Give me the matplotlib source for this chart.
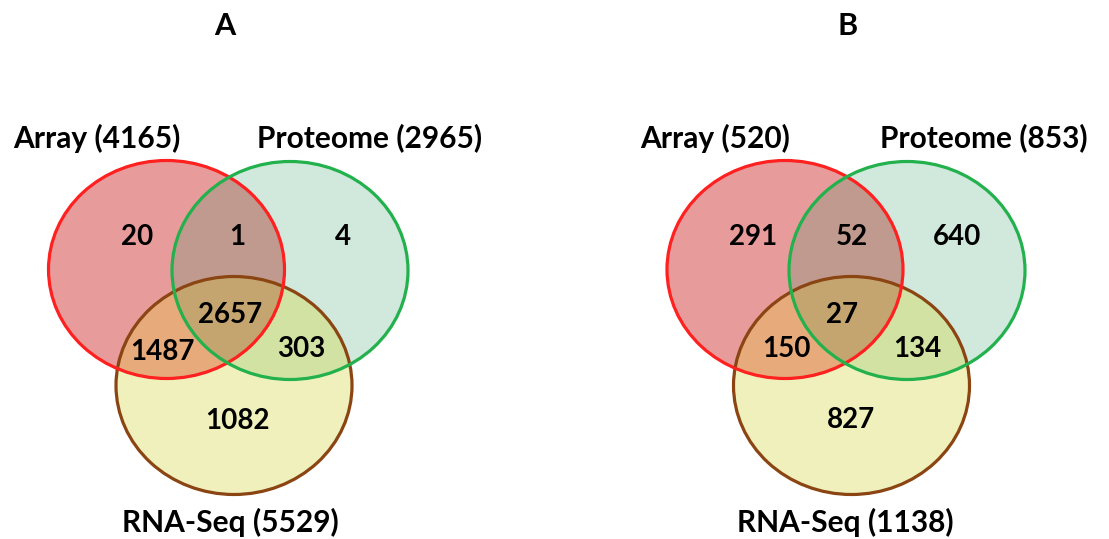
import numpy as np
import matplotlib
matplotlib.use("Agg")
import matplotlib.pyplot as plt
from matplotlib.patches import Ellipse
from matplotlib.colors import to_rgb

# ---------------- data ----------------
panel_titles = ["A", "B"]
set_names = ["Array", "Proteome", "RNA-Seq"]
set_totals_A = [4165, 2965, 5529]
set_totals_B = [520, 853, 1138]
# region counts: array only, array&proteome, proteome only, all three,
# array&rnaseq, proteome&rnaseq, rnaseq only
regions_A = [20, 1, 4, 2657, 1487, 303, 1082]
regions_B = [291, 52, 640, 27, 150, 134, 827]

# ---------------- style ----------------
W, H = 1109, 539
fig = plt.figure(figsize=(W / 100, H / 100), dpi=100)
ax = fig.add_axes([0, 0, 1, 1])
ax.set_xlim(0, W)
ax.set_ylim(H, 0)
ax.axis("off")

FONT = "Lato"
fill_cols = {
    (1, 0, 0): "#e89b9b",
    (0, 1, 0): "#d0e9dc",
    (0, 0, 1): "#eff0bc",
    (1, 1, 0): "#c09a8e",
    (1, 0, 1): "#e6aa7b",
    (0, 1, 1): "#d2e2a3",
    (1, 1, 1): "#c4a56f",
}
edge_cols = ["#ff2020", "#22b14c", "#8b4513"]

panels = [
    dict(title=panel_titles[0], tx=225, totals=set_totals_A, regions=regions_A,
         ell=[(166.5, 269.5), (290, 270.5), (234, 385.5)],
         lab=[(97, 138), (370, 138), (230, 522)],
         num=[(137, 237), (237, 237), (343, 237), (230, 315), (162, 352), (301, 349), (237, 421)]),
    dict(title=panel_titles[1], tx=848, totals=set_totals_B, regions=regions_B,
         ell=[(785, 269.5), (907, 270.5), (851.5, 385.5)],
         lab=[(715, 138), (984, 138), (845, 522)],
         num=[(753, 237), (852, 237), (957, 237), (842, 315), (786, 349), (917, 349), (851, 420)]),
]
EW, EH = 236, 218

# background image of region colours
yy, xx = np.mgrid[0:H, 0:W] + 0.5
img = np.ones((H, W, 3))
for p in panels:
    inside = []
    for (cx, cy) in p["ell"]:
        inside.append(((xx - cx) / (EW / 2)) ** 2 + ((yy - cy) / (EH / 2)) ** 2 <= 1)
    for key, col in fill_cols.items():
        m = np.ones((H, W), bool)
        for k, ins in zip(key, inside):
            m &= ins if k else ~ins
        img[m] = to_rgb(col)
ax.imshow(img, extent=(0, W, H, 0), interpolation="bilinear", zorder=0)

for p in panels:
    # outlines
    for i in [2, 0, 1]:
        cx, cy = p["ell"][i]
        ax.add_patch(Ellipse((cx, cy), EW, EH, fill=False, ec=edge_cols[i], lw=2.3, zorder=2))
    ax.text(p["tx"], 26, p["title"], ha="center", va="center", fontsize=22,
            fontweight="bold", family=FONT, zorder=3)
    for name, tot, (lx, ly) in zip(set_names, p["totals"], p["lab"]):
        ax.text(lx, ly, f"{name} ({tot})", ha="center", va="center", fontsize=21.5,
                fontweight="bold", family=FONT, zorder=3)
    for val, (nx, ny) in zip(p["regions"], p["num"]):
        ax.text(nx, ny, str(val), ha="center", va="center", fontsize=20,
                fontweight="bold", family=FONT, zorder=3)

fig.savefig("out.png", dpi=100)
